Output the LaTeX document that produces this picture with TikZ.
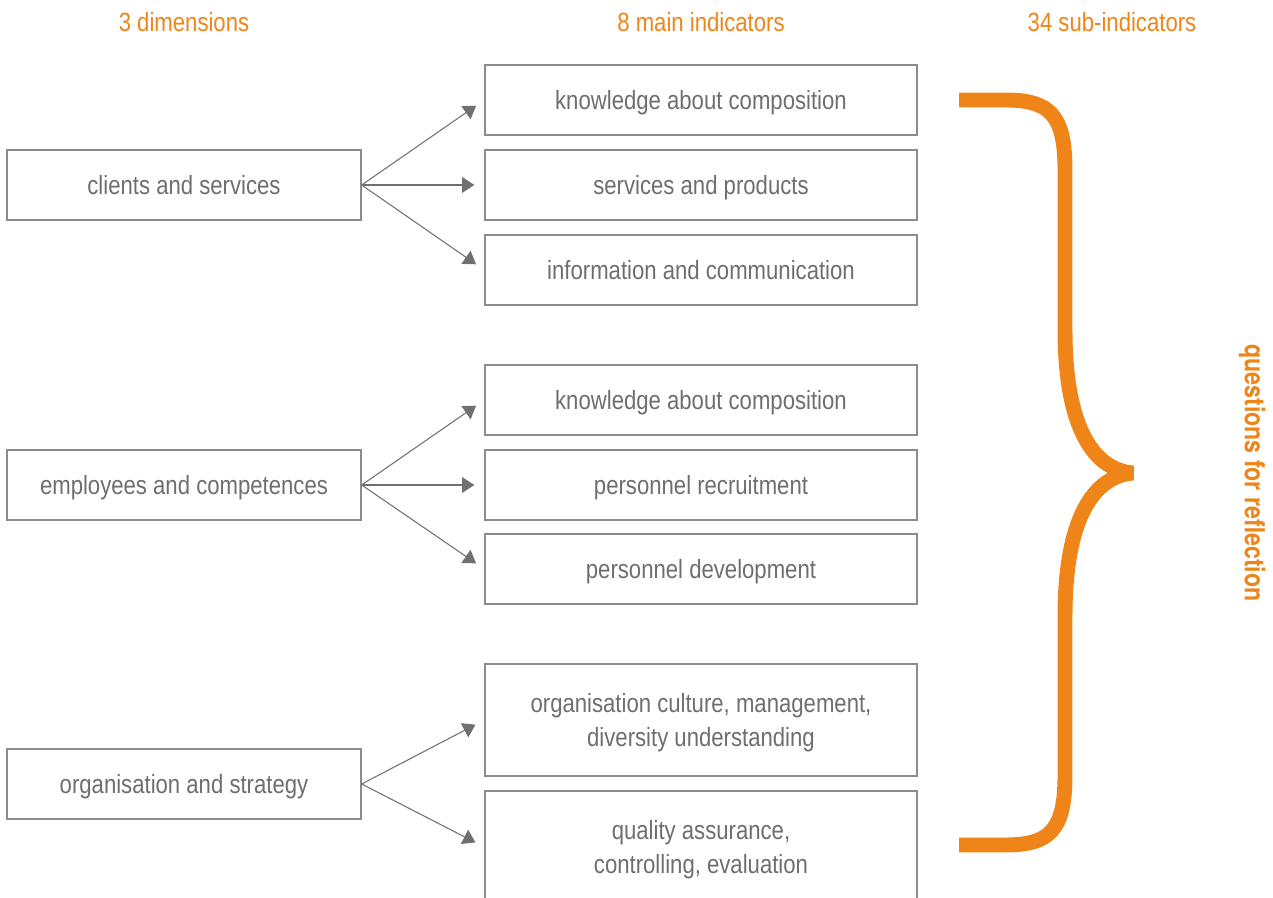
\documentclass[tikz,border=0pt]{standalone}
\usepackage{fontspec}
\setmainfont[FakeStretch=0.84]{Liberation Sans}
\newfontfamily\boldcond[FakeStretch=0.84]{TeX Gyre Heros}
\usetikzlibrary{%
  arrows.meta,%
  calc%
}
\definecolor{accent}{HTML}{EF8519}
\definecolor{txtgray}{HTML}{6E6E6E}
\definecolor{boxgray}{HTML}{8C8C8C}
\definecolor{arrgray}{HTML}{707070}
\tikzset{>={Triangle[length=7pt,width=9pt]}}
\tikzset{box/.style = {draw=boxgray, line width=0.8pt, text=txtgray,
        inner sep=0pt, align=center, minimum height=1.4cm, text depth=0pt,
        font=\fontsize{15}{19.3}\selectfont},%
    dimbox/.style = {box, minimum width=7.08cm},%
    indbox/.style = {box, minimum width=8.64cm},%
    head/.style = {text=accent, font=\fontsize{15}{17}\selectfont},%
    link/.style = {->, draw=arrgray, line width=0.6pt, shorten >=5.7pt},%
    brace/.style = {draw=accent, line width=8.5pt, line join=bevel}}

\begin{document}
\begin{tikzpicture}[x=0.02cm,y=-0.02cm]
        \useasboundingbox (0,0) rectangle (1273,898);
        % column titles
        \node[head] (hdim) at (184,22) {3 dimensions};
        \node[head] (hind) at (701,22) {8 main indicators};
        \node[head] (hsub) at (1112,22) {34 sub-indicators};
        % dimensions
        \node[dimbox] (dimA) at (184,185) {clients and services};
        \node[dimbox] (dimB) at (184,485) {employees and competences};
        \node[dimbox] (dimC) at (184,784) {organisation and strategy};
        % main indicators
        \node[indbox] (indA) at (701,100) {knowledge about composition};
        \node[indbox] (indB) at (701,185) {services and products};
        \node[indbox] (indC) at (701,270) {information and communication};
        \node[indbox] (indD) at (701,400) {knowledge about composition};
        \node[indbox] (indE) at (701,485) {personnel recruitment};
        \node[indbox] (indF) at (701,569) {personnel development};
        \node[indbox,minimum height=2.24cm] (indG) at (701,720)
        {organisation culture, management,\\diversity understanding};
        \node[indbox,minimum height=2.24cm] (indH) at (701,847)
        {quality assurance,\\controlling, evaluation};
        % links
        \foreach \i in {A,B,C} \draw[link] (dimA.east) -- (ind\i.west);
        \foreach \i in {D,E,F} \draw[link] (dimB.east) -- (ind\i.west);
        \foreach \i in {G,H} \draw[link] (dimC.east) -- (ind\i.west);
        % brace
        \draw[brace] (959,100) -- (1005,100)
        .. controls (1050,100) and (1065,115) .. (1065,170) -- (1065,330)
        .. controls (1065,430) and (1095,470) .. (1133,473)
        .. controls (1095,476) and (1065,516) .. (1065,616) -- (1065,775)
        .. controls (1065,830) and (1050,845) .. (1005,845) -- (959,845);
        \node[text=accent, rotate=-90, font=\fontsize{15.7}{18}\boldcond\bfseries]
        (quest) at (1252,473) {questions for reflection};
      \end{tikzpicture}
\end{document}
